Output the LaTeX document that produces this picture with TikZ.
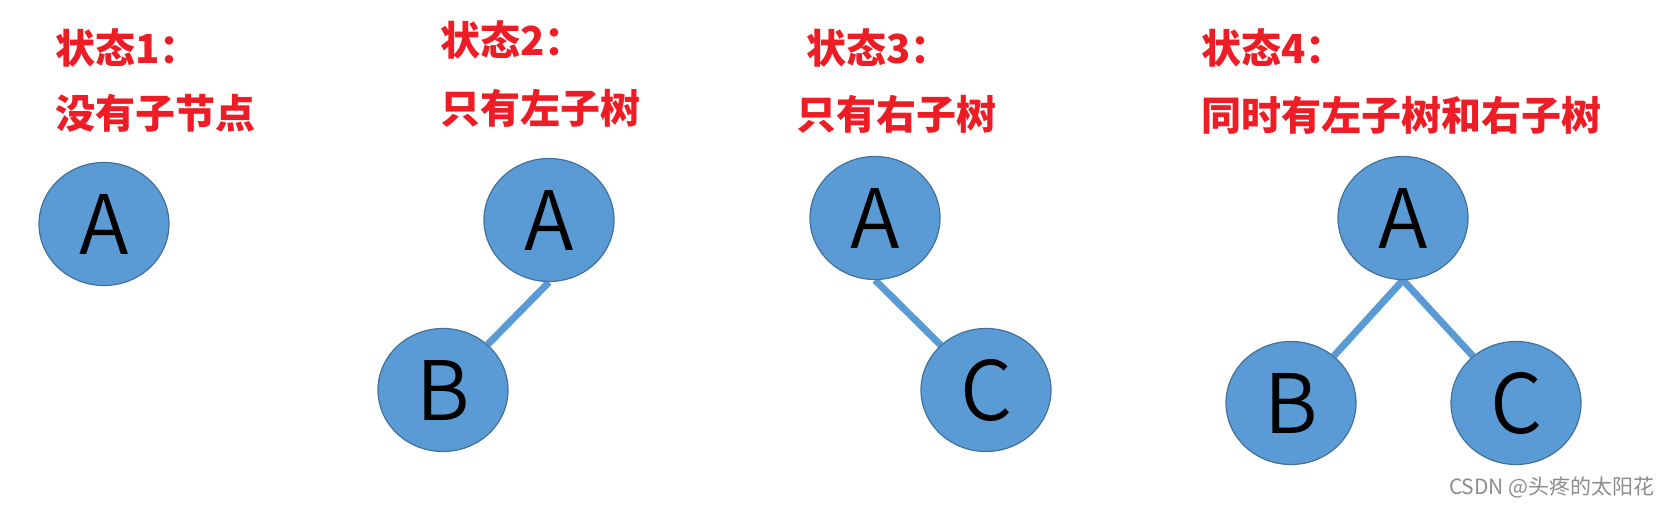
\documentclass[tikz,border=0pt]{standalone}
\usepackage{fontspec}
\newfontfamily\cjk{Noto Sans CJK SC}
\IfFontExistsTF{Noto Sans CJK SC DemiLight}
  {\newfontfamily\cjklight{Noto Sans CJK SC DemiLight}}
  {\newfontfamily\cjklight{Noto Sans CJK SC}}
\usetikzlibrary{shapes.geometric,backgrounds}
\definecolor{cNode}{HTML}{5B9BD5}
\definecolor{cNodeLine}{HTML}{41719C}
\definecolor{cTitle}{HTML}{EE1C25}
\definecolor{cMark}{HTML}{8C8C8C}
\tikzset{
  tnode/.style={ellipse, draw=cNodeLine, line width=0.6pt, fill=cNode,
    minimum width=65pt, minimum height=61.5pt, inner sep=0pt,
    font=\cjklight\fontsize{41}{41}\selectfont},
  link/.style={draw=cNode, line width=3.5pt},
  title/.style={anchor=west, inner sep=0pt, text=cTitle,
    font=\cjk\bfseries\fontsize{20}{24}\selectfont},
  wmark/.style={anchor=east, inner sep=0pt, text=cMark,
    font=\cjk\fontsize{10.5}{12}\selectfont},
}

\begin{document}
\begin{tikzpicture}[x=0.5pt, y=-0.5pt]
    \useasboundingbox (0,0) rectangle (1669,507);
    % --- state 1 ---
    \node[title] (t1)  at (55,48)   {状态1：};
    \node[title] (d1)  at (55,113)  {没有子节点};
    \node[tnode] (a1)  at (104,224) {A};
    % --- state 2 ---
    \node[title] (t2)  at (440,40)  {状态2：};
    \node[title] (d2)  at (440,108) {只有左子树};
    \node[tnode] (a2)  at (549,220) {A};
    \node[tnode] (b2)  at (443,390) {B};
    % --- state 3 ---
    \node[title] (t3)  at (806,48)  {状态3：};
    \node[title] (d3)  at (796,114) {只有右子树};
    \node[tnode] (a3)  at (875,218) {A};
    \node[tnode] (c3)  at (986,390) {C};
    % --- state 4 ---
    \node[title] (t4)  at (1201,48)  {状态4：};
    \node[title] (d4)  at (1201,115) {同时有左子树和右子树};
    \node[tnode] (a4)  at (1403,218) {A};
    \node[tnode] (b4)  at (1291,403) {B};
    \node[tnode] (c4)  at (1516,403) {C};
    % edges behind the nodes
    \begin{scope}[on background layer]
      \draw[link] (a2.south) -- (b2);
      \draw[link] (a3.south) -- (c3);
      \draw[link] (a4.south) -- (b4);
      \draw[link] (a4.south) -- (c4);
    \end{scope}
    \node[wmark] (wm) at (1655,487) {CSDN @头疼的太阳花};
\end{tikzpicture}
\end{document}
